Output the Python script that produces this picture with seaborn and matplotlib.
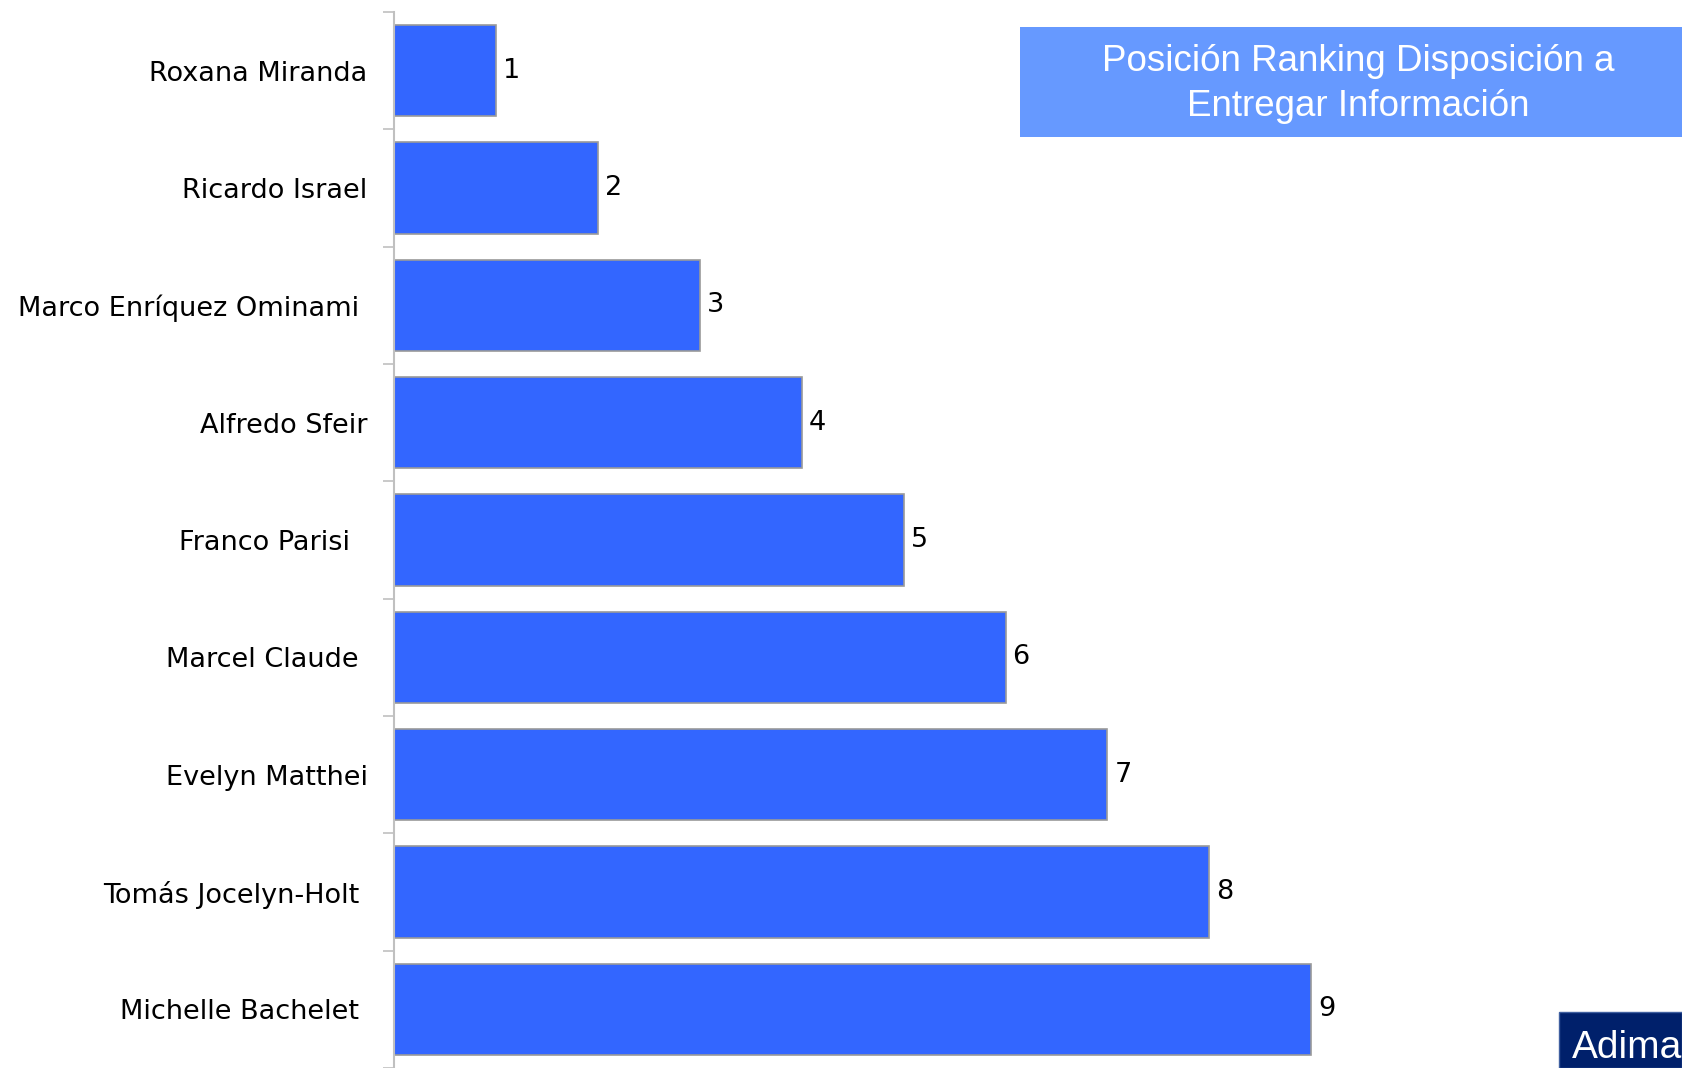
import matplotlib
matplotlib.use("Agg")
import matplotlib.pyplot as plt
import seaborn as sns
import pandas as pd
import numpy as np
from matplotlib.patches import Rectangle

candidates = ["Roxana Miranda", "Ricardo Israel", "Marco Enríquez Ominami ", "Alfredo Sfeir",
              "Franco Parisi  ", "Marcel Claude ", "Evelyn Matthei", "Tomás Jocelyn-Holt ",
              "Michelle Bachelet "]
ranking = [1, 2, 3, 4, 5, 6, 7, 8, 9]
title_text = "Posición Ranking Disposición a\nEntregar Información"
logo_text = "Adimark"

df = pd.DataFrame({"candidate": candidates, "ranking": ranking})

sns.set_theme(style="white")
plt.rcParams['font.family'] = ['DejaVu Sans']

fig = plt.figure(figsize=(16.82, 10.68), dpi=100)
ax = fig.add_axes([394/1682, 0, 1223/1682, 1056/1068])

sns.barplot(data=df, y="candidate", x="ranking", orient="h", color="#3366FF",
            saturation=1, edgecolor="#9a9a9a", linewidth=1.2, width=0.78, ax=ax)

for c in ax.containers:
    ax.bar_label(c, fmt="%d", padding=5, fontsize=19.5, color="black")

ax.set_xlim(0, 12)
ax.set_ylim(8.44, -0.5)
ax.set_xlabel("")
ax.set_ylabel("")
ax.set_xticks([])
ax.set_yticks(np.arange(-0.5, 9, 1), minor=True)
ax.tick_params(axis="y", which="major", length=0, pad=19, labelsize=19.5, labelcolor="black")
ax.tick_params(axis="y", which="minor", left=True, length=8, width=1.2, color="#c0c0c0")
for s in ["top", "right", "bottom"]:
    ax.spines[s].set_visible(False)
ax.spines["left"].set_color("#c0c0c0")
ax.spines["left"].set_linewidth(1.5)

# Title box
fig.patches.append(Rectangle((1020/1682, 1 - 137/1068), (1682-1020)/1682, (137-27)/1068,
                             transform=fig.transFigure, facecolor="#6699FF", edgecolor="none", zorder=5))
fig.text(1358/1682, 1 - 84/1068, title_text, ha="center", va="center", color="white",
         fontsize=26.5, family="Liberation Sans", linespacing=1.38, zorder=6)

# Logo box
fig.patches.append(Rectangle((1559/1682, 0), (1682-1559)/1682, (1068-1012)/1068,
                             transform=fig.transFigure, facecolor="#00206B", edgecolor="#4060a0",
                             linewidth=1, zorder=5))
fig.text(1572/1682, 2/1068, logo_text, ha="left", va="bottom", color="white",
         fontsize=28, family="Liberation Sans", zorder=6)

fig.savefig("out.png", dpi=100)
